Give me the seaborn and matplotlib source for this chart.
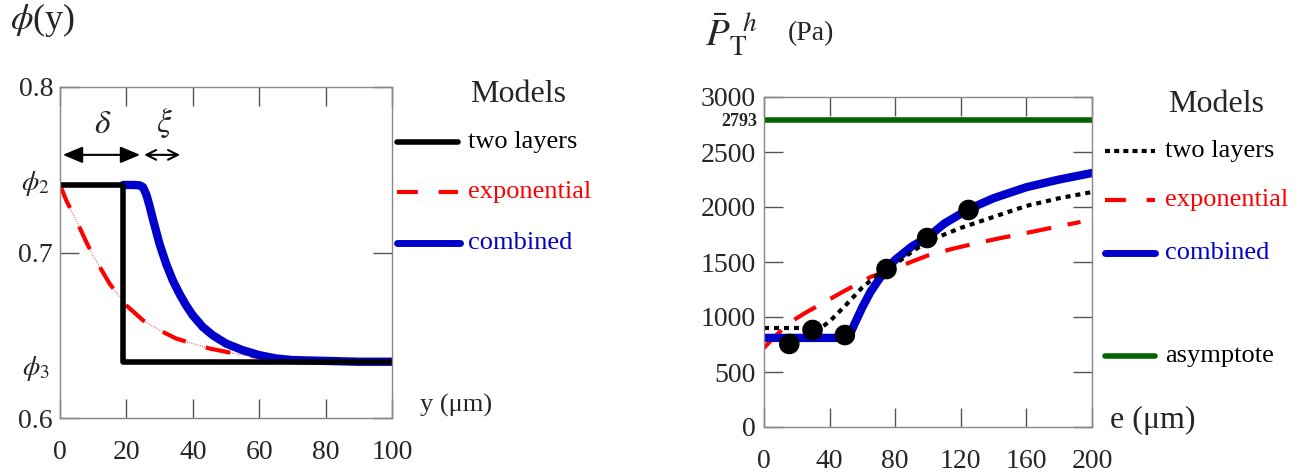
import numpy as np
import pandas as pd
import matplotlib
matplotlib.use("Agg")
import matplotlib.pyplot as plt
from matplotlib.lines import Line2D
import seaborn as sns

# ---- left panel: porosity profile phi(y)
phi2 = 0.7408
phi3 = 0.634

y_two = [0, 19, 19, 100]
phi_two = [phi2, phi2, phi3, phi3]

y_exp = [0, 2, 5, 8, 10, 15, 20, 25, 30, 35, 40, 45, 50, 55, 60, 70, 80, 90, 100]
phi_exp = [0.7408, 0.731, 0.719, 0.706, 0.698, 0.681, 0.668, 0.659, 0.653, 0.648, 0.645,
           0.642, 0.640, 0.638, 0.637, 0.635, 0.6345, 0.634, 0.634]

y_comb = [19, 22, 24, 25, 26, 27, 28, 30, 32, 34, 36, 38, 40, 43, 46, 50, 55, 60, 65, 70,
          80, 90, 100]
phi_comb = [0.7408, 0.7408, 0.7406, 0.7395, 0.735, 0.728, 0.720, 0.705, 0.693, 0.683,
            0.675, 0.668, 0.662, 0.655, 0.650, 0.645, 0.641, 0.638, 0.636, 0.635, 0.6345,
            0.634, 0.634]

# ---- right panel: P_T^h vs e
e_two = [0, 10, 20, 30, 35, 40, 50, 60, 70, 80, 90, 100, 120, 140, 160, 180, 200]
p_two = [900, 900, 900, 900, 905, 960, 1110, 1270, 1390, 1480, 1590, 1690, 1810, 1910,
         2010, 2080, 2136]

e_exp = [0, 5, 10, 15, 20, 25, 35, 50, 65, 80, 100, 115, 130, 145, 160, 175, 193]
p_exp = [718, 800, 870, 940, 990, 1036, 1120, 1245, 1364, 1445, 1560, 1620, 1673, 1720,
         1764, 1810, 1864]

e_comb = [0, 10, 20, 30, 40, 50, 52, 55, 60, 65, 70, 75, 80, 90, 100, 110, 125, 140, 160,
          180, 200]
p_comb = [810, 810, 810, 810, 810, 810, 830, 930, 1090, 1230, 1340, 1440, 1520, 1640,
          1727, 1850, 1982, 2080, 2180, 2250, 2309]

e_meas = [15.4, 29.6, 49.3, 74.7, 99.5, 124.7]
p_meas = [755, 882, 836, 1436, 1718, 1973]

asymptote = 2793

sns.set_style("ticks")
plt.rcParams["font.family"] = ["Liberation Serif", "DejaVu Serif"]
plt.rcParams["mathtext.fontset"] = "stix"

W, H = 1314, 472
fig = plt.figure(figsize=(W / 100, H / 100), dpi=100)


def fx(px):
    return px / W


def fy(py):
    return 1 - py / H


def style_axes(ax):
    for s in ax.spines.values():
        s.set_color("#888888")
        s.set_linewidth(1.0)
    ax.tick_params(direction="in", length=14, width=1, color="#555555",
                   top=True, right=True, labelsize=20, pad=8)


# left axes
ax1 = fig.add_axes([fx(60), fy(418), fx(332), 331 / H])
sns.lineplot(x=y_exp, y=phi_exp, ax=ax1, color="red", lw=0.6, linestyle=":", estimator=None)
sns.lineplot(x=y_exp, y=phi_exp, ax=ax1, color="red", lw=3, estimator=None)
ax1.lines[-1].set_dashes([6, 5])
sns.lineplot(x=y_comb, y=phi_comb, ax=ax1, color="#0000cc", lw=6, sort=False, estimator=None)
sns.lineplot(x=y_two, y=phi_two, ax=ax1, color="black", lw=4, sort=False, estimator=None)
ax1.set_xlim(0, 100)
ax1.set_ylim(0.6, 0.8)
ax1.set_xticks([0, 20, 40, 60, 80, 100])
ax1.set_yticks([0.6, 0.7, 0.8])
ax1.set_yticklabels(["0.6", "0.7", "0.8"])
style_axes(ax1)
ax1.tick_params(axis="y", pad=5)
ax1.tick_params(axis="x", pad=16)
ax1.text(-3, phi2 + 0.001, r"$\phi_2$", fontsize=20, ha="right", va="center")
ax1.text(-3, phi3 - 0.004, r"$\phi_3$", fontsize=20, ha="right", va="center")
ax1.annotate("", xy=(0, 0.759), xytext=(25, 0.759),
             arrowprops=dict(arrowstyle="<|-|>,head_length=1.2,head_width=0.5", color="black", lw=1.5))
ax1.annotate("", xy=(24.5, 0.759), xytext=(37, 0.759),
             arrowprops=dict(arrowstyle="<->,head_length=0.7,head_width=0.35", color="black", lw=1.5))
ax1.text(12.8, 0.777, r"$\delta$", fontsize=24, ha="center", va="center")
ax1.text(31.5, 0.778, r"$\xi$", fontsize=24, ha="center", va="center")

fig.text(fx(10), fy(20), r"$\phi$(y)", fontsize=26, ha="left", va="center")
fig.text(fx(420), fy(405), "y (μm)", fontsize=19, ha="left", va="center")

# right axes
ax2 = fig.add_axes([fx(764), fy(427), fx(328), 330 / H])
sns.lineplot(x=[0, 200], y=[asymptote, asymptote], ax=ax2, color="#006400", lw=4, estimator=None)
sns.lineplot(x=e_exp, y=p_exp, ax=ax2, color="red", lw=3, estimator=None)
ax2.lines[-1].set_dashes([6, 4])
sns.lineplot(x=e_comb, y=p_comb, ax=ax2, color="#0000cc", lw=6, estimator=None)
sns.lineplot(x=e_two, y=p_two, ax=ax2, color="black", lw=3, estimator=None)
ax2.lines[-1].set_dashes([1.2, 1.2])
sns.scatterplot(x=e_meas, y=p_meas, ax=ax2, color="black", s=220, zorder=5, edgecolor="none")
ax2.set_xlim(0, 200)
ax2.set_ylim(0, 3000)
ax2.set_xticks([0, 40, 80, 120, 160, 200])
ax2.set_yticks([0, 500, 1000, 1500, 2000, 2500, 3000])
style_axes(ax2)
ax2.tick_params(axis="y", pad=6)
ax2.tick_params(axis="x", pad=16)
ax2.text(-4, asymptote - 15, "2793", fontsize=13, fontweight="bold", ha="right", va="center")
for a in (ax1, ax2):
    a.set_xlabel("")
    a.set_ylabel("")
    if a.get_legend():
        a.get_legend().remove()

fig.text(fx(705), fy(35), r"$\bar{P}_{\mathrm{T}}^{\ \ h}$", fontsize=28, ha="left", va="center")
fig.text(fx(788), fy(34), "(Pa)", fontsize=20, ha="left", va="center")
fig.text(fx(1110), fy(420), "e (μm)", fontsize=23, ha="left", va="center")

# legends drawn by hand
def legend_entry(x0, x1, ypx, color, lw, dashes, label, tcolor, tx, size):
    ln = Line2D([fx(x0), fx(x1)], [fy(ypx), fy(ypx)], transform=fig.transFigure,
                color=color, lw=lw)
    if dashes:
        ln.set_dashes(dashes)
    fig.add_artist(ln)
    fig.text(fx(tx), fy(ypx), label, color=tcolor, fontsize=size, ha="left", va="center")


fig.text(fx(470), fy(95), "Models", fontsize=23, ha="left", va="center")
legend_entry(397, 458, 142, "black", 4, None, "two layers", "black", 468, 19)
legend_entry(397, 458, 192, "red", 3, [5, 5], "exponential", "red", 468, 19)
legend_entry(397, 460, 243, "#0000cc", 5, None, "combined", "#0000cc", 468, 19)

fig.text(fx(1168), fy(105), "Models", fontsize=23, ha="left", va="center")
legend_entry(1105, 1155, 151, "black", 3, [1.2, 1.0], "two layers", "black", 1165, 19)
legend_entry(1105, 1155, 200, "red", 3, [5, 5], "exponential", "red", 1165, 19)
legend_entry(1105, 1155, 253, "#0000cc", 5, None, "combined", "#0000cc", 1165, 19)
legend_entry(1105, 1155, 356, "#006400", 4, None, "asymptote", "black", 1165, 19)

fig.savefig("out.png", dpi=100)
